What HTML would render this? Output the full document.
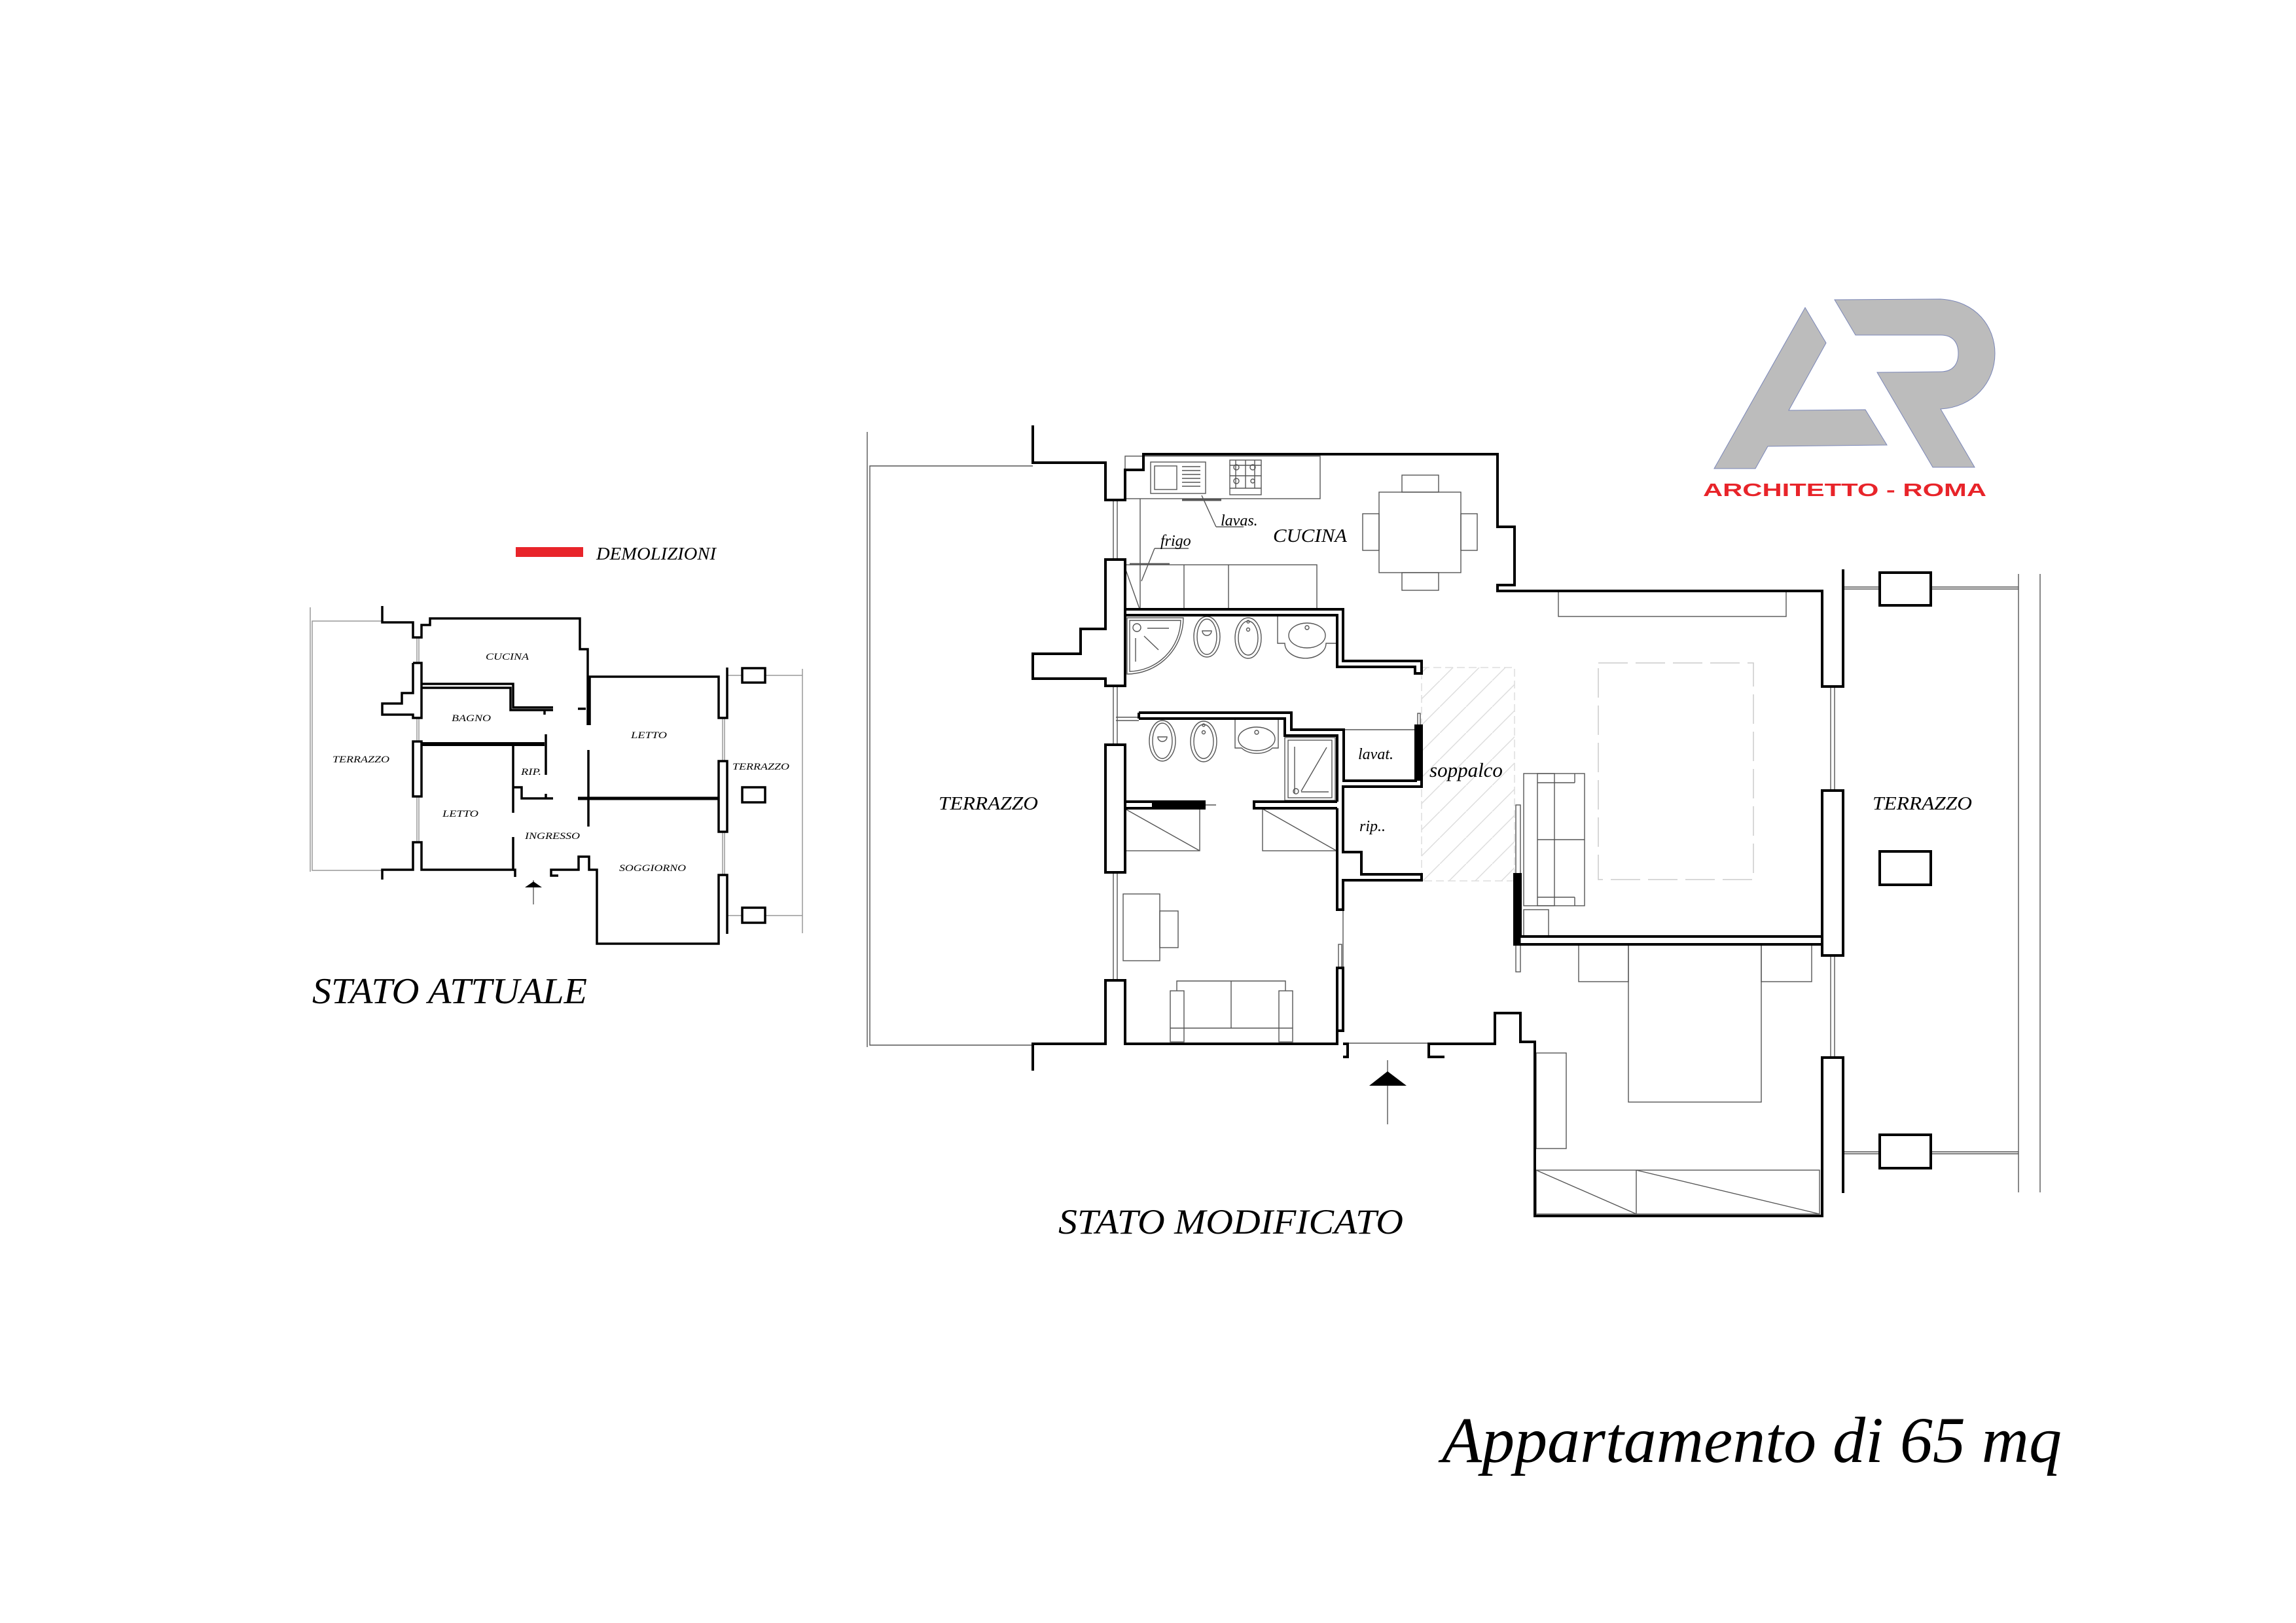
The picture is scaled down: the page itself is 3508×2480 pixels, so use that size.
<!DOCTYPE html>
<html><head><meta charset="utf-8"><style>
html,body{margin:0;padding:0;background:#fff;}
svg{display:block;}
text{font-family:"Liberation Serif",serif;font-style:italic;fill:#000;}
</style></head><body>
<svg width="3508" height="2480" viewBox="0 0 3508 2480" xmlns="http://www.w3.org/2000/svg">
<rect width="3508" height="2480" fill="#fff"/>

<!-- LOGO -->
<g fill="#bcbcbc" stroke="#7a86b8" stroke-width="1">
<polygon points="2619,716 2758,470 2790,524 2733,627 2850,626 2883,680 2701,682 2682,716"/>
<path d="M2803,458 L2965,457 C3020,460 3048,500 3048,540 C3048,585 3015,622 2965,625 L3017,714 L2953,714 L2868,569 L2965,568 C2985,568 2992,555 2992,540 C2992,525 2985,512 2965,512 L2835,512 Z"/>
</g>
<text x="2602" y="758" style="font-family:'Liberation Sans',sans-serif;font-style:normal;font-weight:bold;font-size:28px;fill:#e8242a" textLength="433" lengthAdjust="spacingAndGlyphs">ARCHITETTO - ROMA</text>

<!-- ============ STATO ATTUALE (small plan) ============ -->
<rect x="788" y="836" width="103" height="15" fill="#e8242a"/>
<text x="911" y="855" font-size="27" textLength="183" lengthAdjust="spacingAndGlyphs">DEMOLIZIONI</text>

<g fill="none" stroke="#999" stroke-width="1.5">
<polyline points="584,949 477,949 477,1330 584,1330"/>
<line x1="474" y1="928" x2="474" y2="1332"/>
<line x1="637" y1="974" x2="637" y2="1013"/><line x1="640" y1="974" x2="640" y2="1013"/>
<line x1="637" y1="1097" x2="637" y2="1287"/><line x1="640" y1="1097" x2="640" y2="1287"/>
<line x1="1104" y1="1097" x2="1104" y2="1163"/><line x1="1107" y1="1097" x2="1107" y2="1163"/>
<line x1="1104" y1="1271" x2="1104" y2="1338"/><line x1="1107" y1="1271" x2="1107" y2="1338"/>
<line x1="1111" y1="1032" x2="1134" y2="1032"/><line x1="1169" y1="1032" x2="1226" y2="1032"/>
<line x1="1111" y1="1399" x2="1134" y2="1399"/><line x1="1169" y1="1399" x2="1226" y2="1399"/>
<line x1="1226" y1="1022" x2="1226" y2="1426"/>
<line x1="815" y1="1345" x2="815" y2="1382" stroke="#666"/>
</g>
<g fill="none" stroke="#000" stroke-width="3.5" stroke-linejoin="miter">
<polyline points="584,926 584,951 631,951 631,974 644,974 644,955 657,955 657,945 886,945 886,992 898,992 898,1108"/>
<polyline points="631,1013 644,1013 644,1097 631,1097 631,1092 584,1092 584,1075 614,1075 614,1059 631,1059 631,1013"/>
<polyline points="644,1045 784,1045 784,1081 845,1081"/>
<polyline points="644,1051 780,1051 780,1085 845,1085"/>
<line x1="832" y1="1085" x2="832" y2="1092"/>
<polyline points="883,1083 895,1083"/>
<polyline points="901,1108 901,1034 1098,1034 1098,1097 1111,1097 1111,1020"/>
<rect x="631" y="1133" width="13" height="84" fill="#fff"/>
<line x1="644" y1="1137" x2="832" y2="1137" stroke-width="6"/>
<line x1="834" y1="1122" x2="834" y2="1184"/>
<polyline points="784,1140 784,1242"/>
<polyline points="784,1203 797,1203 797,1220 845,1220"/>
<line x1="834" y1="1213" x2="834" y2="1220"/>
<line x1="899" y1="1146" x2="899" y2="1263"/>
<line x1="883" y1="1220" x2="1098" y2="1220" stroke-width="5"/>
<rect x="1098" y="1163" width="13" height="108" fill="#fff"/>
<polyline points="584,1344 584,1329 631,1329 631,1287 644,1287 644,1329 784,1329 784,1279"/>
<polyline points="784,1329 787,1329 787,1340"/>
<polyline points="853,1338 842,1338 842,1329 884,1329 884,1309 900,1309 900,1329 912,1329 912,1442 1098,1442 1098,1337 1111,1337 1111,1427"/>
<rect x="1134" y="1021" width="35" height="22" fill="#fff"/>
<rect x="1134" y="1203" width="35" height="23" fill="#fff"/>
<rect x="1134" y="1387" width="35" height="23" fill="#fff"/>
</g>
<polygon points="802,1356 815,1347 828,1356" fill="#000"/>
<g font-size="15">
<text x="742" y="1008" textLength="66" lengthAdjust="spacingAndGlyphs">CUCINA</text>
<text x="690" y="1102" textLength="60" lengthAdjust="spacingAndGlyphs">BAGNO</text>
<text x="964" y="1128" textLength="55" lengthAdjust="spacingAndGlyphs">LETTO</text>
<text x="508" y="1165" textLength="87" lengthAdjust="spacingAndGlyphs">TERRAZZO</text>
<text x="796" y="1184" textLength="31" lengthAdjust="spacingAndGlyphs">RIP.</text>
<text x="676" y="1248" textLength="55" lengthAdjust="spacingAndGlyphs">LETTO</text>
<text x="802" y="1282" textLength="84" lengthAdjust="spacingAndGlyphs">INGRESSO</text>
<text x="946" y="1331" textLength="102" lengthAdjust="spacingAndGlyphs">SOGGIORNO</text>
<text x="1119" y="1176" textLength="87" lengthAdjust="spacingAndGlyphs">TERRAZZO</text>
</g>
<text x="477" y="1533" font-size="56" textLength="420" lengthAdjust="spacingAndGlyphs">STATO ATTUALE</text>

<!-- ============ STATO MODIFICATO ============ -->
<!-- hatched soppalco -->
<defs>
<pattern id="hat" width="40" height="40" patternUnits="userSpaceOnUse">
<line x1="0" y1="40" x2="40" y2="0" stroke="#ddd" stroke-width="1.5"/>
</pattern>
</defs>
<rect x="2172" y="1020" width="142" height="326" fill="url(#hat)" stroke="#ddd" stroke-width="1.5" stroke-dasharray="12,6"/>
<rect x="2442" y="1013" width="237" height="331" fill="none" stroke="#ccc" stroke-width="1.5" stroke-dasharray="45,12"/>

<!-- thin lines: railings, windows, furniture -->
<g fill="none" stroke="#555" stroke-width="1.4">
<polyline points="1578,712 1329,712 1329,1597 1578,1597"/>
<line x1="1325" y1="660" x2="1325" y2="1600"/>
<line x1="1701" y1="764" x2="1701" y2="855"/><line x1="1707" y1="764" x2="1707" y2="855"/>
<line x1="1701" y1="1048" x2="1701" y2="1138"/><line x1="1707" y1="1048" x2="1707" y2="1138"/>
<line x1="1701" y1="1333" x2="1701" y2="1498"/><line x1="1707" y1="1333" x2="1707" y2="1498"/>
<line x1="1705" y1="1096" x2="1740" y2="1096"/><line x1="1705" y1="1101" x2="1740" y2="1101"/>
<line x1="2797" y1="1049" x2="2797" y2="1208"/><line x1="2803" y1="1049" x2="2803" y2="1208"/>
<line x1="2797" y1="1460" x2="2797" y2="1616"/><line x1="2803" y1="1460" x2="2803" y2="1616"/>
<line x1="2816" y1="897" x2="2872" y2="897"/><line x1="2950" y1="897" x2="3084" y2="897"/>
<line x1="2816" y1="900" x2="2872" y2="900"/><line x1="2950" y1="900" x2="3084" y2="900"/>
<line x1="2816" y1="1760" x2="2872" y2="1760"/><line x1="2950" y1="1760" x2="3084" y2="1760"/>
<line x1="2816" y1="1763" x2="2872" y2="1763"/><line x1="2950" y1="1763" x2="3084" y2="1763"/>
<line x1="3084" y1="877" x2="3084" y2="1822"/>
<line x1="3117" y1="877" x2="3117" y2="1822"/>
<!-- kitchen -->
<rect x="1719" y="697" width="298" height="65"/>
<rect x="1758" y="706" width="84" height="48"/>
<rect x="1764" y="712" width="34" height="36"/>
<line x1="1806" y1="713" x2="1834" y2="713"/><line x1="1806" y1="719" x2="1834" y2="719"/><line x1="1806" y1="725" x2="1834" y2="725"/><line x1="1806" y1="731" x2="1834" y2="731"/><line x1="1806" y1="737" x2="1834" y2="737"/><line x1="1806" y1="743" x2="1834" y2="743"/>
<rect x="1879" y="703" width="48" height="53"/>
<line x1="1879" y1="711" x2="1927" y2="711"/><line x1="1879" y1="727" x2="1927" y2="727"/><line x1="1879" y1="746" x2="1927" y2="746"/>
<line x1="1888" y1="703" x2="1888" y2="746"/><line x1="1903" y1="703" x2="1903" y2="746"/><line x1="1917" y1="703" x2="1917" y2="746"/>
<circle cx="1889" cy="714" r="4"/><circle cx="1914" cy="714" r="4"/><circle cx="1889" cy="735" r="4"/><circle cx="1914" cy="735" r="3"/>
<line x1="1806" y1="764" x2="1866" y2="764" stroke-width="3"/>
<line x1="1836" y1="757" x2="1858" y2="805"/><line x1="1858" y1="805" x2="1900" y2="805"/>
<line x1="1742" y1="762" x2="1742" y2="930"/>
<rect x="1719" y="863" width="293" height="67"/>
<line x1="1809" y1="863" x2="1809" y2="930"/><line x1="1877" y1="863" x2="1877" y2="930"/>
<line x1="1726" y1="862" x2="1787" y2="862" stroke-width="3"/>
<line x1="1764" y1="838" x2="1744" y2="888"/><line x1="1764" y1="838" x2="1816" y2="838"/>
<line x1="1719" y1="868" x2="1741" y2="930"/>
<rect x="2107" y="752" width="125" height="123"/>
<rect x="2142" y="726" width="56" height="26"/><rect x="2142" y="875" width="56" height="27"/>
<rect x="2082" y="785" width="25" height="56"/><rect x="2232" y="785" width="25" height="56"/>
<!-- bath1 -->
<path d="M1722,944 L1808,944 A86,86 0 0 1 1722,1030 Z"/>
<path d="M1726,948 L1804,948 A80,80 0 0 1 1726,1026 Z"/>
<circle cx="1737" cy="959" r="6"/><line x1="1753" y1="960" x2="1786" y2="960"/><line x1="1748" y1="972" x2="1770" y2="993"/><line x1="1735" y1="975" x2="1735" y2="1011"/>
<ellipse cx="1844" cy="973" rx="20" ry="31"/><ellipse cx="1844" cy="973" rx="15" ry="27"/><path d="M1837,964 a7,7 0 1 0 14,0 Z"/>
<ellipse cx="1907" cy="975" rx="20" ry="31"/><ellipse cx="1907" cy="975" rx="15" ry="26"/><circle cx="1907" cy="950" r="2"/><circle cx="1907" cy="962" r="2.5"/>
<path d="M1952,942 L1952,983 L1963,983 A29,21 0 0 0 2026,983 L2042,983"/>
<ellipse cx="1997" cy="971" rx="28" ry="19"/><circle cx="1997" cy="959" r="3"/>
<!-- bath2 -->
<ellipse cx="1776" cy="1132" rx="20" ry="31"/><ellipse cx="1776" cy="1132" rx="15" ry="27"/><path d="M1769,1126 a7,7 0 1 0 14,0 Z"/>
<ellipse cx="1839" cy="1133" rx="20" ry="31"/><ellipse cx="1839" cy="1133" rx="15" ry="26"/><circle cx="1839" cy="1108" r="2"/><circle cx="1839" cy="1119" r="2.5"/>
<path d="M1887,1100 L1887,1143 L1897,1143 A28,18 0 0 0 1944,1143 L1953,1143 L1953,1100"/>
<ellipse cx="1920" cy="1129" rx="28" ry="18"/><circle cx="1920" cy="1119" r="3"/>
<rect x="1963" y="1127" width="77" height="96"/><rect x="1968" y="1131" width="67" height="88"/>
<line x1="1978" y1="1141" x2="1978" y2="1212"/><line x1="2027" y1="1142" x2="1988" y2="1209"/><line x1="1988" y1="1210" x2="2030" y2="1210"/><circle cx="1980" cy="1209" r="4"/>
<line x1="2053" y1="1115" x2="2163" y2="1115"/>
<rect x="2166" y="1090" width="4" height="18"/>
<!-- bedroom 2 -->
<line x1="1840" y1="1230" x2="1858" y2="1230"/>
<rect x="1719" y="1236" width="114" height="64"/><line x1="1719" y1="1236" x2="1833" y2="1300"/>
<rect x="1929" y="1236" width="113" height="64"/><line x1="1929" y1="1236" x2="2042" y2="1300"/>
<rect x="1716" y="1366" width="56" height="102"/><rect x="1772" y="1392" width="28" height="56"/>
<rect x="1788" y="1514" width="21" height="78"/><rect x="1954" y="1514" width="21" height="78"/>
<polyline points="1798,1514 1798,1499 1964,1499 1964,1514"/>
<line x1="1788" y1="1571" x2="1975" y2="1571"/><line x1="1881" y1="1499" x2="1881" y2="1571"/>
<line x1="2052" y1="1390" x2="2052" y2="1479"/>
<rect x="2045" y="1443" width="5" height="36"/>
<line x1="2059" y1="1594" x2="2183" y2="1594"/>
<line x1="2120" y1="1620" x2="2120" y2="1718"/>
<!-- living -->
<rect x="2381" y="904" width="348" height="38"/>
<rect x="2328" y="1182" width="47" height="202"/>
<rect x="2349" y="1182" width="72" height="202"/>
<line x1="2349" y1="1196" x2="2406" y2="1196"/><line x1="2349" y1="1371" x2="2406" y2="1371"/>
<line x1="2406" y1="1182" x2="2406" y2="1196"/><line x1="2406" y1="1371" x2="2406" y2="1384"/>
<line x1="2349" y1="1283" x2="2421" y2="1283"/>
<rect x="2328" y="1390" width="38" height="40"/>
<rect x="2316" y="1230" width="7" height="255"/>
<!-- bedroom 1 -->
<rect x="2488" y="1443" width="203" height="241"/>
<rect x="2412" y="1443" width="76" height="57"/><rect x="2691" y="1443" width="77" height="57"/>
<rect x="2347" y="1609" width="46" height="146"/>
<rect x="2347" y="1788" width="433" height="67"/>
<line x1="2500" y1="1788" x2="2500" y2="1855"/>
<line x1="2347" y1="1788" x2="2500" y2="1855"/><line x1="2500" y1="1788" x2="2780" y2="1855"/>
</g>

<!-- WALLS -->
<g fill="none" stroke="#000" stroke-width="4" stroke-linejoin="miter">
<polyline points="1578,650 1578,707 1689,707 1689,764 1719,764 1719,718 1747,718 1747,694 2288,694 2288,805 2314,805 2314,894 2288,894 2288,903 2784,903 2784,1049 2816,1049 2816,870"/>
<polygon points="1689,855 1689,961 1651,961 1651,999 1578,999 1578,1037 1689,1037 1689,1048 1719,1048 1719,855" fill="#fff"/>
<polyline points="1719,931 2052,931 2052,1010 2172,1010 2172,1029 2162,1029 2162,1019 2043,1019 2043,940 1719,940"/>
<polyline points="1740,1089 1973,1089 1973,1115 2053,1115 2053,1193 2163,1193 2163,1107"/>
<polyline points="1740,1098 1963,1098 1963,1124 2043,1124 2043,1225"/>
<polyline points="2172,1107 2172,1202 2052,1202 2052,1302 2080,1302 2080,1336 2172,1336 2172,1345 2052,1345 2052,1390 2043,1390 2043,1235"/>
<line x1="1740" y1="1089" x2="1740" y2="1098"/>
<polyline points="1719,1225 1840,1225 1840,1235 1719,1235"/>
<line x1="1760" y1="1230" x2="1840" y2="1230" stroke-width="6"/>
<polyline points="2043,1225 1916,1225 1916,1235 2043,1235"/>
<rect x="1689" y="1138" width="30" height="195" fill="#fff"/>
<polyline points="1578,1636 1578,1595 1689,1595 1689,1498 1719,1498 1719,1595 2043,1595 2043,1479 2052,1479 2052,1575 2043,1575"/>
<polyline points="2052,1595 2059,1595 2059,1615 2052,1615"/>
<polyline points="2207,1615 2183,1615 2183,1595 2284,1595 2284,1548 2323,1548 2323,1592 2345,1592 2345,1858 2784,1858 2784,1616 2816,1616 2816,1823"/>
<polyline points="2784,1616 2784,1616"/>
<rect x="2784" y="1208" width="32" height="252" fill="#fff"/>
<polyline points="2784,1431 2323,1431 2323,1336 2314,1336 2314,1443 2784,1443"/>
<rect x="2314" y="1336" width="9" height="107" fill="#000" stroke="none"/>
<rect x="2872" y="875" width="78" height="50" fill="#fff"/>
<rect x="2872" y="1301" width="78" height="51" fill="#fff"/>
<rect x="2872" y="1734" width="78" height="51" fill="#fff"/>
</g>
<rect x="2163" y="1107" width="9" height="86" fill="#000"/>
<rect x="2314" y="1336" width="9" height="107" fill="#000"/>
<polygon points="2092,1659 2120,1637 2149,1659" fill="#000"/>

<!-- labels -->
<g font-size="28">
<text x="1945" y="828" textLength="113" lengthAdjust="spacingAndGlyphs">CUCINA</text>
<text x="1434" y="1237" textLength="152" lengthAdjust="spacingAndGlyphs">TERRAZZO</text>
<text x="2861" y="1237" textLength="152" lengthAdjust="spacingAndGlyphs">TERRAZZO</text>
</g>
<g font-size="24">
<text x="1865" y="803">lavas.</text>
<text x="1773" y="834">frigo</text>
<text x="2075" y="1160">lavat.</text>
<text x="2077" y="1270">rip..</text>
</g>
<text x="2184" y="1187" font-size="31">soppalco</text>
<text x="1617" y="1885" font-size="54" textLength="527" lengthAdjust="spacingAndGlyphs">STATO MODIFICATO</text>
<text x="2203" y="2234" font-size="100" textLength="947" lengthAdjust="spacingAndGlyphs">Appartamento di 65 mq</text>
</svg>
</body></html>
